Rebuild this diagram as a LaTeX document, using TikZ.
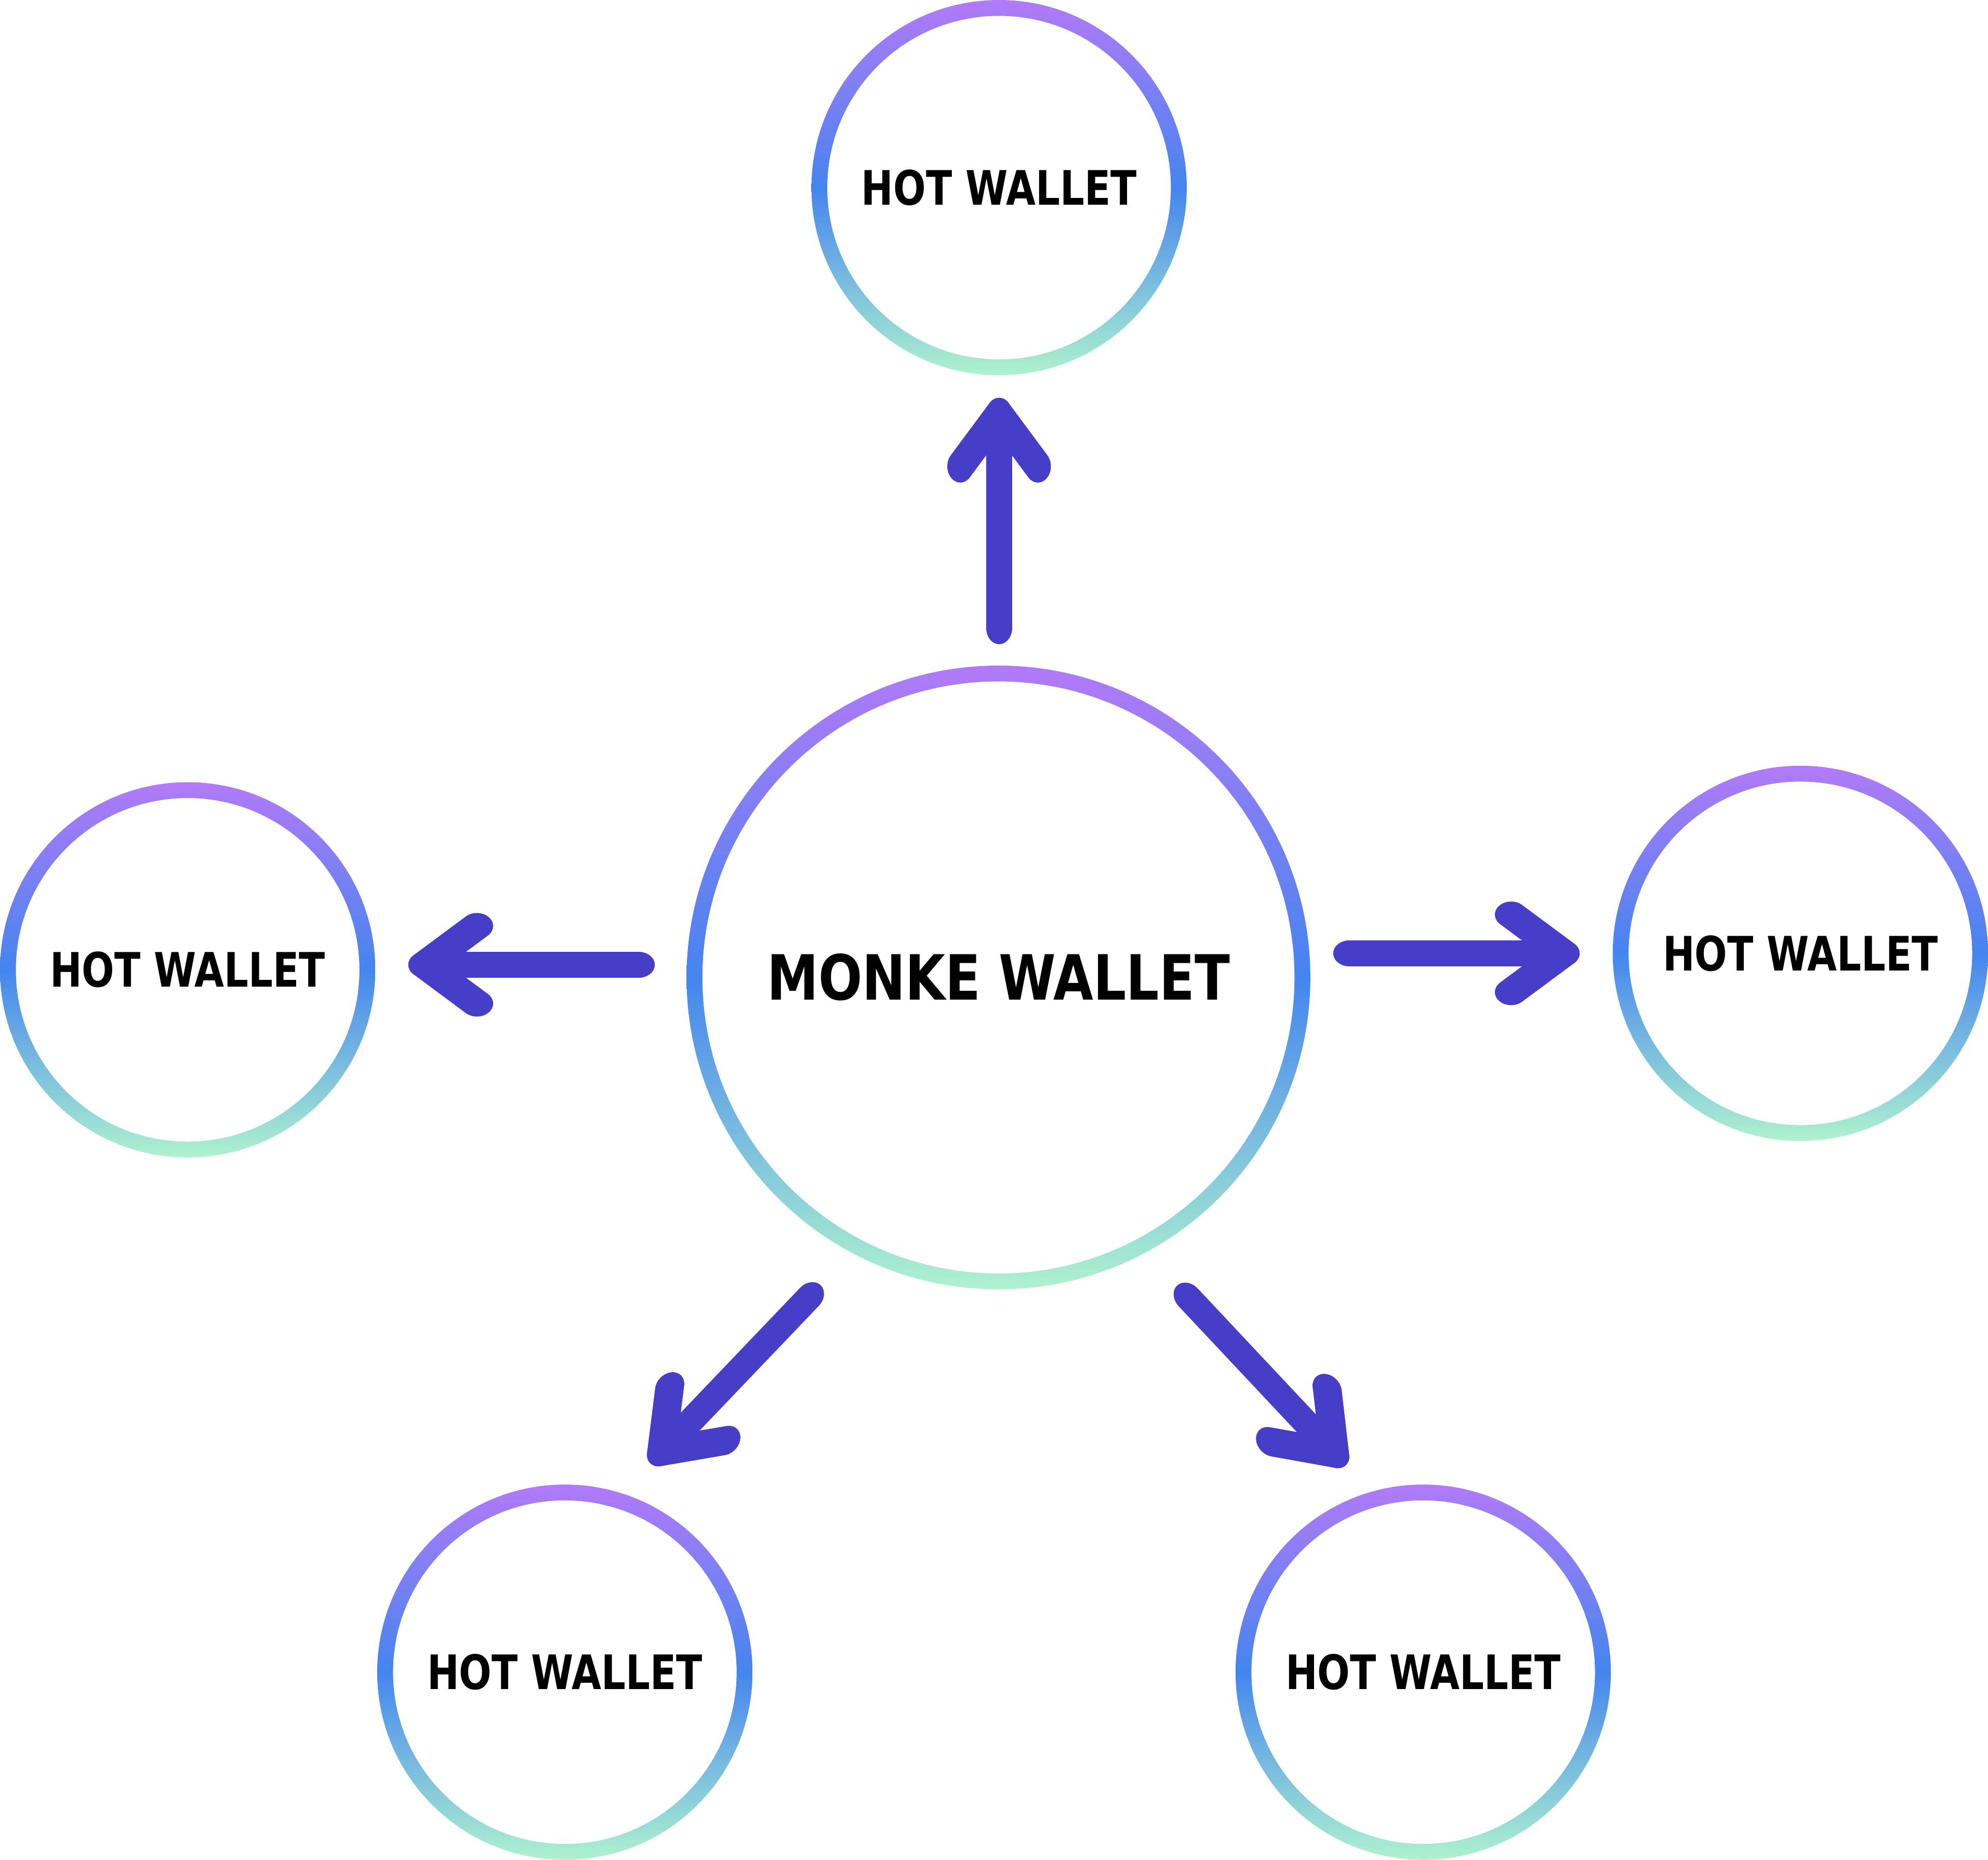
\documentclass[tikz,border=0pt]{standalone}
\usepackage{fontspec}
\usepackage{graphicx}
\newfontfamily\lblfont{DejaVu Sans}
\definecolor{ringTop}{HTML}{B27AF8}
\definecolor{ringMid}{HTML}{4485EE}
\definecolor{ringBot}{HTML}{AEF2CF}
\definecolor{arrowBlue}{HTML}{463EC6}
\tikzset{
  ring/.style={even odd rule, top color=ringTop, bottom color=ringBot, middle color=ringMid},
  wallet/.style={circle, inner sep=0pt, minimum size=295pt},
  arrowstroke/.style={draw=arrowBlue, line width=20.5pt, line cap=round, line join=round},
}
\newcommand\hotlabel{\resizebox{217pt}{27.8pt}{\lblfont\bfseries HOT WALLET}}
% #1 name prefix, #2 tip position, #3 direction (canvas angle) from tip to tail
\newcommand\wArrow[3]{%
  \begin{scope}[transform canvas={shift={#2}, rotate=#3, xscale=1.25}]
    \coordinate (#1T) at (0,0);
    \coordinate (#1S) at (135,0);
    \coordinate (#1A) at (33,30.6);
    \coordinate (#1B) at (33,-30.6);
    \draw[arrowstroke] (#1S) -- (#1T);
    \draw[arrowstroke] (#1A) -- (#1T) -- (#1B);
  \end{scope}}
\newcommand\wRing[2]{\shade[ring] (#1) circle[radius=#2] (#1) circle[radius=#2-12.5];}
\begin{document}
\begin{tikzpicture}[x=1pt,y=-1pt]
\useasboundingbox (0,0) rectangle (1568,1467);
% nodes
\node[wallet, minimum size=490pt] (m) at (787.5,771) {\resizebox{365pt}{36.5pt}{\lblfont\bfseries MONKE WALLET}};
\node[wallet] (top) at (788,148) {\hotlabel};
\node[wallet] (lft) at (148,765) {\hotlabel};
\node[wallet] (rgt) at (1420,752) {\hotlabel};
\node[wallet] (bl) at (445.5,1319) {\hotlabel};
\node[wallet] (br) at (1122.5,1319) {\hotlabel};
% rings
\wRing{m}{246}
\wRing{top}{148}
\wRing{lft}{148}
\wRing{rgt}{148}
\wRing{bl}{148}
\wRing{br}{148}
% arrows (tip position, direction towards the tail)
\wArrow{up}{(788,326.6)}{-90}
\wArrow{lf}{(334.9,761)}{0}
\wArrow{rt}{(1233.1,752)}{180}
\wArrow{bl}{(521.8,1145)}{46.3}
\wArrow{br}{(1052.7,1146.4)}{133.2}
\end{tikzpicture}
\end{document}
